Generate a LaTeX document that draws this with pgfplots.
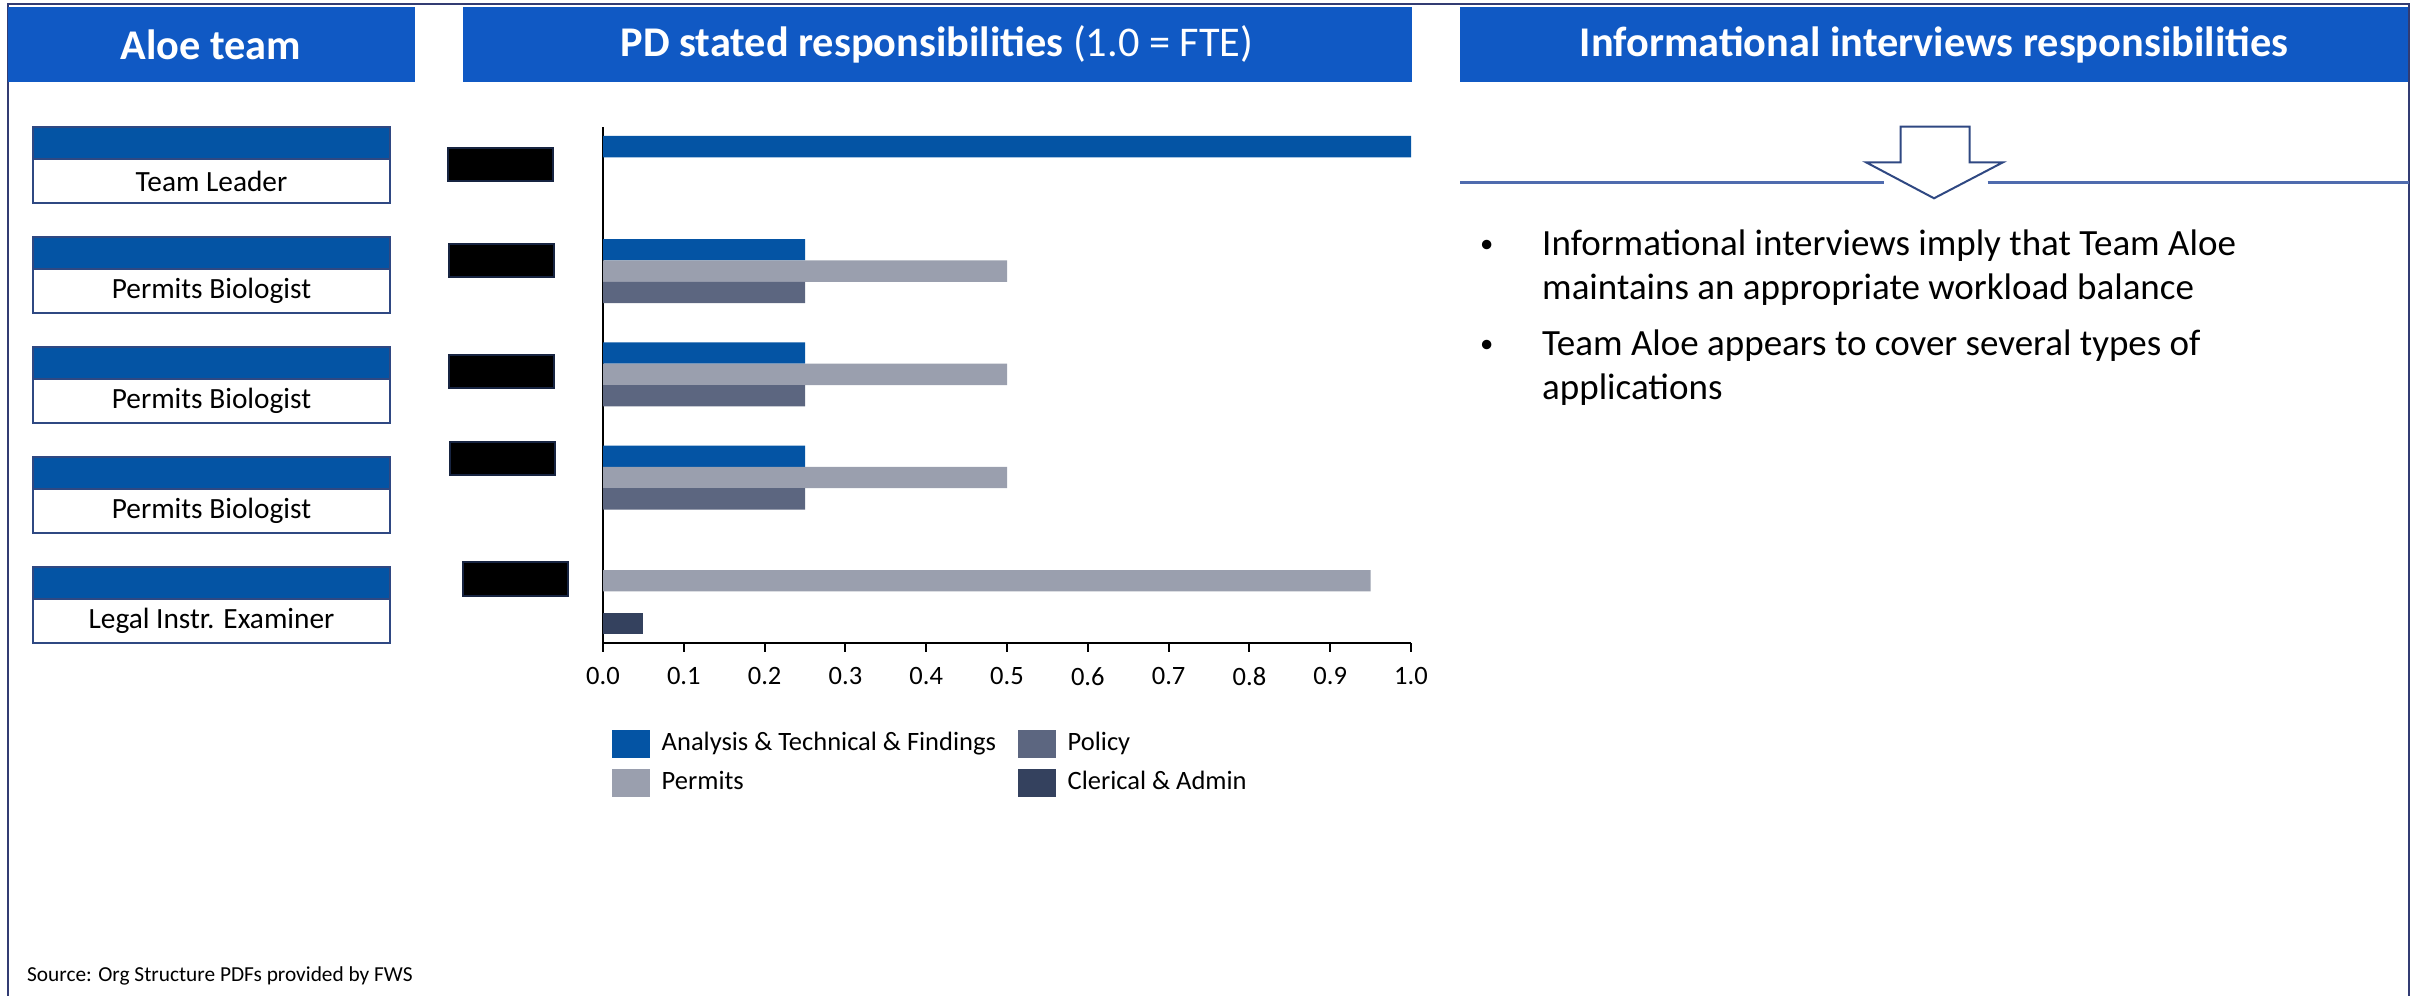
\documentclass[border=0pt]{standalone}
\usepackage{fontspec}
\setmainfont{Carlito}
\usepackage{pgfplots}
\pgfplotsset{compat=1.18}
\definecolor{hdr}{RGB}{16,89,196}
\definecolor{cA}{RGB}{4,84,164}
\definecolor{cP}{RGB}{154,159,174}
\definecolor{cPo}{RGB}{92,102,128}
\definecolor{cC}{RGB}{52,65,94}
\definecolor{navy}{RGB}{47,72,130}
\definecolor{frm}{RGB}{50,60,115}
\definecolor{hline}{RGB}{79,107,174}
\begin{document}
\begin{tikzpicture}
\path[use as bounding box] (0,0) rectangle (725.1pt,-298.8pt);
\begin{scope}[x=0.3pt,y=-0.3pt]
 % frame
 \draw[frm, line width=0.8pt] (8,996) -- (8,4) -- (2409,4) -- (2409,996);
 % headers
 \fill[hdr] (8,7) rectangle (415,82);
 \fill[hdr] (463,7) rectangle (1412,82);
 \fill[hdr] (1460,7) rectangle (2408,82);
 \node[text=white, font=\fontsize{12.7}{15}\selectfont\bfseries] at (211,44.5) {Aloe team};
 \node[text=white, font=\fontsize{12.7}{15}\selectfont] at (937,44.5) {\textbf{PD stated responsibilities} (1.0 = FTE)};
 \node[text=white, font=\fontsize{12.7}{15}\selectfont\bfseries] at (1934,44.5) {Informational interviews responsibilities};
 % role boxes
 \foreach \t/\lab in {126.7/Team Leader, 236.7/Permits Biologist, 346.7/Permits Biologist, 456.7/Permits Biologist, 566.7/Legal Instr. Examiner} {
   \filldraw[fill=cA, draw=navy, line width=0.7pt] (33,\t) rectangle (390,\t+32.6);
   \filldraw[fill=white, draw=navy, line width=0.7pt] (33,\t+32.6) rectangle (390,\t+76);
   \node[font=\fontsize{8.8}{10}\selectfont] at (211.5,\t+54.3) {\lab};
 }
 % redaction boxes
 \foreach \xa/\ya in {448/148, 449/244, 449/355, 450/442, 463/562}
   \filldraw[fill=black, draw=navy!50!black, line width=0.6pt] (\xa,\ya) rectangle (\xa+105,\ya+33.5);
 % arrow and line
 \draw[hline, line width=0.8pt] (1460,182.3) -- (1884,182.3);
 \draw[hline, line width=0.8pt] (1987.5,182.3) -- (2409,182.3);
 \filldraw[fill=white, draw=navy, line width=0.6pt] (1900.5,126.7) -- (1969.7,126.7) -- (1969.7,162.3) -- (2003,162.3) -- (1934,198.3) -- (1866,162.3) -- (1900.5,162.3) -- cycle;
 % bullets
 \begin{scope}[font=\fontsize{11.1}{13}\selectfont]
  \node[anchor=base, inner sep=0pt, font=\fontsize{8}{9}\selectfont] at (1486.7,253) {\textbullet};
  \node[anchor=base west, inner sep=0pt] at (1541.5,256) {Informational interviews imply that Team Aloe};
  \node[anchor=base west, inner sep=0pt] at (1541.5,300) {maintains an appropriate workload balance};
  \node[anchor=base, inner sep=0pt, font=\fontsize{8}{9}\selectfont] at (1486.7,353) {\textbullet};
  \node[anchor=base west, inner sep=0pt] at (1541.5,356) {Team Aloe appears to cover several types of};
  \node[anchor=base west, inner sep=0pt] at (1541.5,400) {applications};
 \end{scope}
 \node[anchor=base west, inner sep=0pt, font=\fontsize{6.4}{8}\selectfont] at (26.5,981) {Source: Org Structure PDFs provided by FWS};
\end{scope}
\begin{axis}[
  at={(180.9pt,-192.9pt)}, anchor=south west,
  scale only axis, width=242.4pt, height=154.8pt,
  xbar, bar width=6.4pt,
  xmin=0, xmax=1, ymin=-0.5, ymax=4.5,
  axis x line*=bottom, axis y line*=left,
  axis line style={black, line width=0.6pt},
  ytick=\empty,
  xtick={0,0.1,0.2,0.3,0.4,0.5,0.6,0.7,0.8,0.9,1},
  tick align=outside, major tick length=2.7pt,
  tick style={black, line width=0.6pt},
  /pgf/number format/assume math mode=true,
  x tick label style={/pgf/number format/.cd, fixed, fixed zerofill, precision=1, /tikz/.cd, yshift=-1.2pt},
  ticklabel style={font=\fontsize{7.95}{9}\selectfont},
  legend columns=2, transpose legend, legend cell align=left,
  legend style={at={(axis description cs:0.0104,-0.158)}, anchor=north west, draw=none, fill=none, inner sep=0pt,
    font=\fontsize{7.95}{9}\selectfont, row sep=0.8pt,
    /tikz/every even column/.append style={column sep=4.6pt}},
  legend image code/.code={\fill[#1] (0pt,-4.2pt) rectangle (11.4pt,4.2pt); \path (12.9pt,0pt);},
]
\addplot[fill=cA, draw=none, bar shift=9.6pt] coordinates {(1,4) (0.25,3) (0.25,2) (0.25,1)};
\addplot[fill=cP, draw=none, bar shift=3.2pt] coordinates {(0.5,3) (0.5,2) (0.5,1) (0.95,0)};
\addplot[fill=cPo, draw=none, bar shift=-3.2pt] coordinates {(0.25,3) (0.25,2) (0.25,1)};
\addplot[fill=cC, draw=none, bar shift=-9.6pt] coordinates {(0.05,0)};
\legend{Analysis \& Technical \& Findings, Permits, Policy, Clerical \& Admin}
\end{axis}
\end{tikzpicture}
\end{document}
